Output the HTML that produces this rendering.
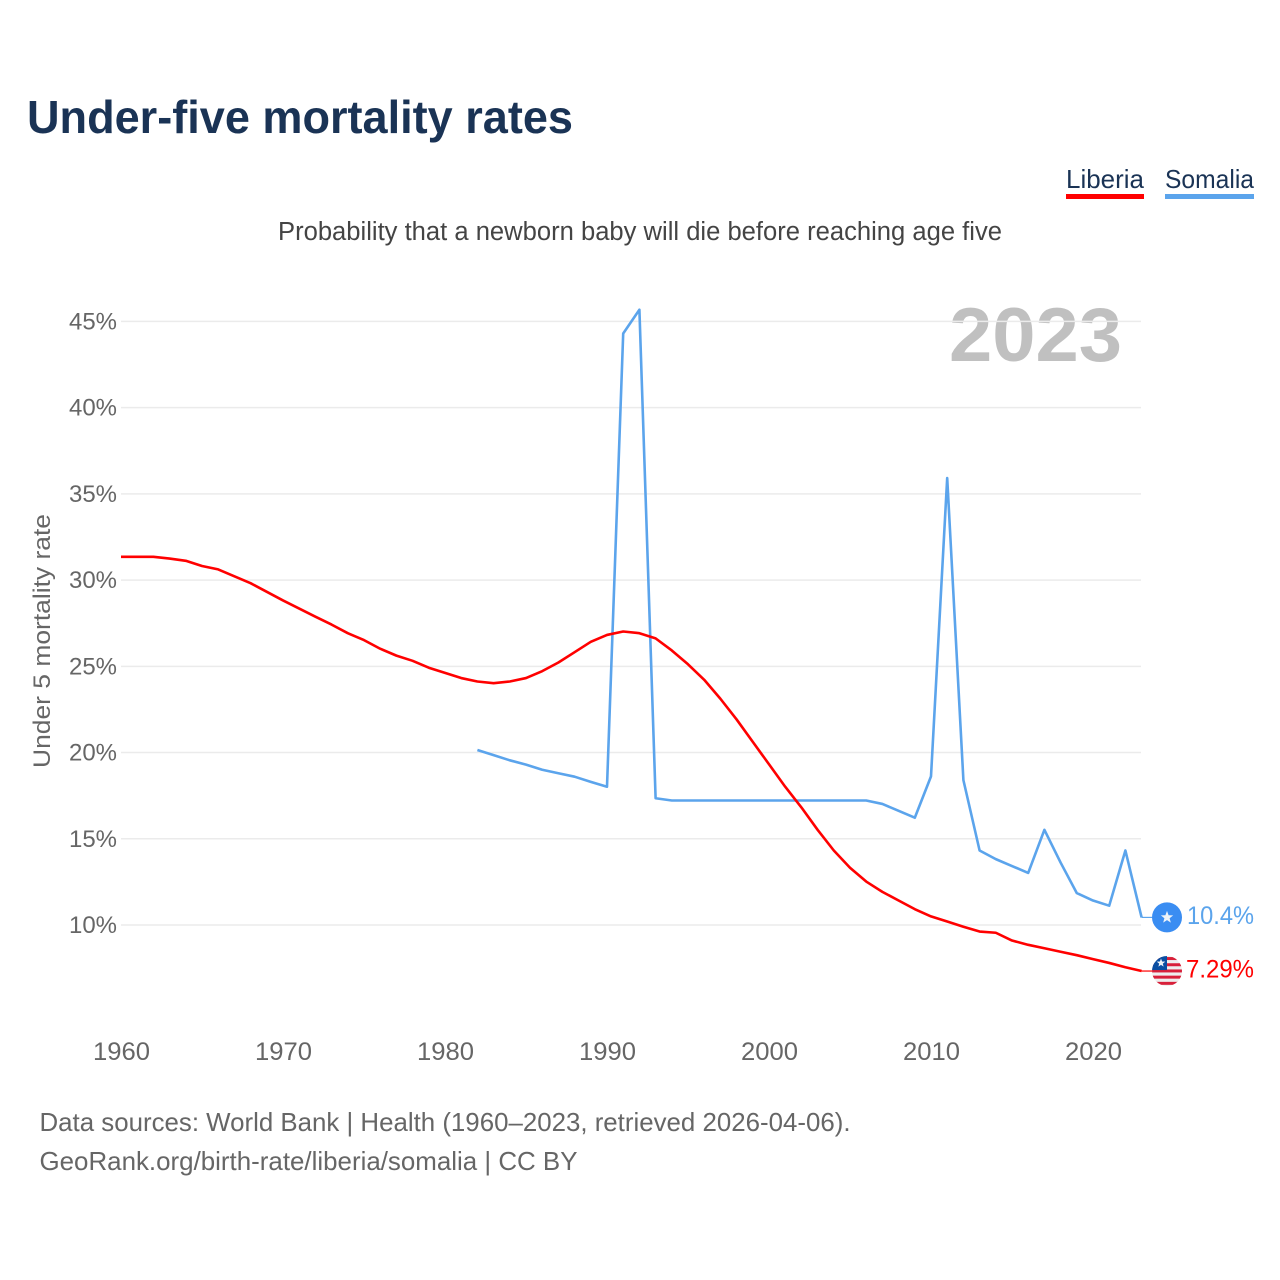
<!DOCTYPE html>
<html lang="en">
<head>
<meta charset="utf-8">
<title>Under-five mortality rates</title>
<style>
html,body{margin:0;padding:0;background:#fff;}
svg{display:block;font-family:"Liberation Sans",sans-serif;}
</style>
</head>
<body>
<svg id="chart" xmlns="http://www.w3.org/2000/svg" width="1280" height="1280" viewBox="0 0 1280 1280">
  <rect x="0" y="0" width="1280" height="1280" fill="#ffffff"/>
  <text x="27" y="133" font-size="46" font-weight="700" fill="#1a3355" textLength="546" lengthAdjust="spacingAndGlyphs">Under-five mortality rates</text>
  <text x="278" y="240" font-size="25.5" fill="#444444" textLength="724" lengthAdjust="spacingAndGlyphs">Probability that a newborn baby will die before reaching age five</text>
  <g>
    <text x="1066" y="188" font-size="26" fill="#1a3355" textLength="78" lengthAdjust="spacingAndGlyphs">Liberia</text>
    <rect x="1066" y="194" width="78" height="5" fill="#ff0000"/>
  </g>
  <g>
    <text x="1165" y="188" font-size="26" fill="#1a3355" textLength="89" lengthAdjust="spacingAndGlyphs">Somalia</text>
    <rect x="1165" y="194" width="89" height="5" fill="#5ba4ec"/>
  </g>
  <text x="949" y="361" font-size="76" font-weight="700" fill="#c0c0c0" textLength="173" lengthAdjust="spacingAndGlyphs">2023</text>
  <text transform="translate(50,768) rotate(-90)" x="0" y="0" font-size="24.5" fill="#666666" textLength="254" lengthAdjust="spacingAndGlyphs">Under 5 mortality rate</text>
  <g id="grid"></g>
  <g id="yticks"></g>
  <g id="xticks"></g>
  <g id="series"></g>
  <g id="ends"></g>
  <text x="39.5" y="1131" font-size="26" fill="#666666" textLength="811" lengthAdjust="spacingAndGlyphs">Data sources: World Bank | Health (1960–2023, retrieved 2026-04-06).</text>
  <text x="39.5" y="1170" font-size="26" fill="#666666" textLength="538" lengthAdjust="spacingAndGlyphs">GeoRank.org/birth-rate/liberia/somalia | CC BY</text>
  <defs>
    <clipPath id="flag-clip-liberia"><circle cx="0" cy="0" r="15"/></clipPath>
  </defs>
</svg>
<script>
var xTickYears = [1960, 1970, 1980, 1990, 2000, 2010, 2020];
var yTickValues = [10, 15, 20, 25, 30, 35, 40, 45];
var liberiaStartYear = 1960;
var liberiaValues = [31.35,31.35,31.35,31.25,31.12,30.82,30.62,30.22,29.82,29.32,28.82,28.35,27.88,27.42,26.92,26.52,26.02,25.62,25.32,24.92,24.62,24.32,24.12,24.02,24.12,24.32,24.72,25.22,25.82,26.42,26.82,27.02,26.92,26.62,25.92,25.12,24.22,23.12,21.92,20.62,19.32,18.02,16.82,15.52,14.32,13.32,12.52,11.92,11.42,10.92,10.5,10.2,9.9,9.62,9.55,9.1,8.85,8.65,8.45,8.25,8.02,7.8,7.55,7.33];
var somaliaStartYear = 1982;
var somaliaValues = [20.15,19.85,19.55,19.3,19.0,18.8,18.6,18.3,18.02,44.3,45.68,17.35,17.22,17.22,17.22,17.22,17.22,17.22,17.22,17.22,17.22,17.22,17.22,17.22,17.22,17.02,16.62,16.22,18.62,35.92,18.4,14.32,13.82,13.42,13.02,15.52,13.62,11.85,11.42,11.12,14.32,10.44];
var liberiaEndLabel = "7.29%";
var somaliaEndLabel = "10.4%";

var NS = "http://www.w3.org/2000/svg";
function xScale(year) { return 121 + (year - 1960) * 16.2; }
function yScale(v) { return 925 - (v - 10) * 17.245; }
function make(tag, attrs, parent, text) {
  var el = document.createElementNS(NS, tag);
  for (var k in attrs) el.setAttribute(k, attrs[k]);
  if (text !== undefined) el.textContent = text;
  parent.appendChild(el);
  return el;
}
function starPoints(r) {
  var pts = [];
  for (var i = 0; i < 10; i++) {
    var a = -Math.PI / 2 + i * Math.PI / 5;
    var rr = i % 2 ? r * 0.42 : r;
    pts.push((rr * Math.cos(a)).toFixed(2) + "," + (rr * Math.sin(a)).toFixed(2));
  }
  return pts.join(" ");
}
var grid = document.getElementById("grid");
var yticks = document.getElementById("yticks");
var xticks = document.getElementById("xticks");
var series = document.getElementById("series");
var ends = document.getElementById("ends");

yTickValues.forEach(function (v) {
  var line = make("line", {x1: 121, x2: 1141, y1: yScale(v), y2: yScale(v), stroke: "#ebebeb", "stroke-width": 1.5}, grid);
  
  
  var label = make("text", {x: 69, y: yScale(v) + 8, "font-size": 24.5, fill: "#666666", textLength: 48, lengthAdjust: "spacingAndGlyphs"}, yticks, v + "%");
  
  
});
xTickYears.forEach(function (yr) {
  var label = make("text", {x: xScale(yr) - 28, y: 1060, "font-size": 25, fill: "#666666", textLength: 57, lengthAdjust: "spacingAndGlyphs"}, xticks, String(yr));
  
  
});
function linePath(values, startYear) {
  return values.map(function (v, i) {
    return (i ? "L" : "M") + xScale(startYear + i).toFixed(2) + " " + yScale(v).toFixed(2);
  }).join(" ");
}
var somaliaLine = make("path", {d: linePath(somaliaValues, somaliaStartYear), fill: "none", stroke: "#5ba4ec", "stroke-width": 2.6, "stroke-linejoin": "round"}, series);


var liberiaLine = make("path", {d: linePath(liberiaValues, liberiaStartYear), fill: "none", stroke: "#ff0000", "stroke-width": 2.6, "stroke-linejoin": "round"}, series);



var somY = yScale(somaliaValues[somaliaValues.length - 1]);
var libY = yScale(liberiaValues[liberiaValues.length - 1]);

var somConn = make("line", {x1: 1141.6, x2: 1152, y1: somY, y2: somY, stroke: "#5ba4ec", "stroke-width": 1.2}, ends);


var libConn = make("line", {x1: 1141.6, x2: 1152, y1: libY, y2: libY, stroke: "#ff0000", "stroke-width": 1.2}, ends);



var somFlag = make("g", {transform: "translate(1167," + somY + ")"}, ends);


make("circle", {cx: 0, cy: 0, r: 15, fill: "#3a8df2"}, somFlag);
make("polygon", {points: starPoints(6.5), fill: "#eef3f8"}, somFlag);

var libFlag = make("g", {transform: "translate(1167," + libY + ")"}, ends);


var libClip = make("g", {"clip-path": "url(#flag-clip-liberia)"}, libFlag);
make("rect", {x: -15, y: -15, width: 30, height: 30, fill: "#eeeeee"}, libClip);
for (var s = 0; s < 5; s++) {
  make("rect", {x: -15, y: -14 + s * 6.2, width: 30, height: 3, fill: "#d8203a"}, libClip);
}
make("rect", {x: -15, y: -15, width: 15, height: 14, fill: "#0a4ea2"}, libClip);
make("polygon", {points: starPoints(4.5), fill: "#eef3f8", transform: "translate(-6,-8)"}, libClip);

var somLabel = make("text", {x: 1187, y: somY + 6.5, "font-size": 25, fill: "#5ba4ec", textLength: 67, lengthAdjust: "spacingAndGlyphs"}, ends, somaliaEndLabel);


var libLabel = make("text", {x: 1186, y: libY + 6.5, "font-size": 25, fill: "#ff0000", textLength: 68, lengthAdjust: "spacingAndGlyphs"}, ends, liberiaEndLabel);


</script>
</body>
</html>
